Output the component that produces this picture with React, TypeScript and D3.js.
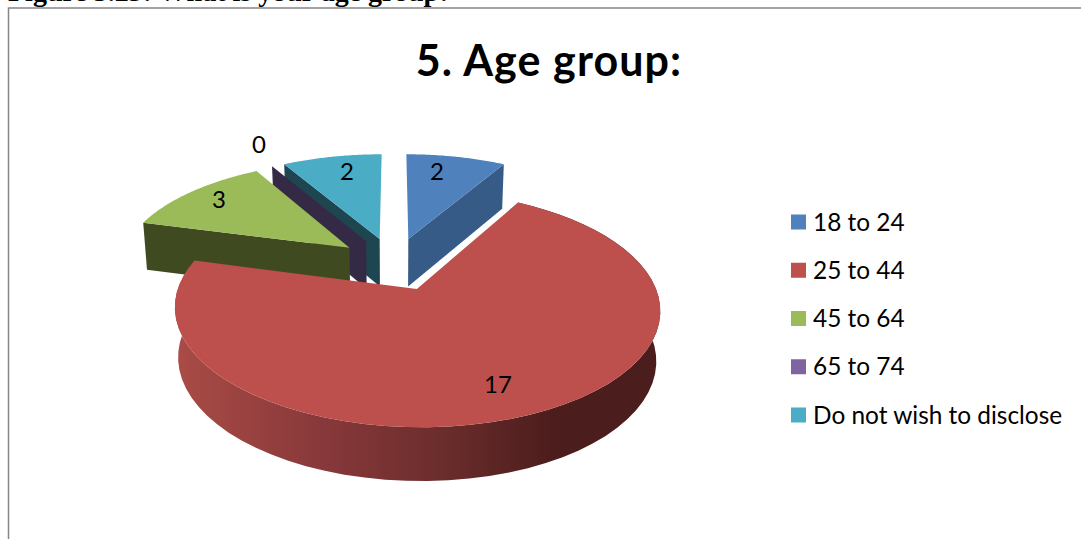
import React from "react";
import * as d3 from "d3";

const categories = ["18 to 24", "25 to 44", "45 to 64", "65 to 74", "Do not wish to disclose"];
const values = [2, 17, 3, 0, 2];
const topColors = ["#4f81bd", "#bd4f4c", "#9bbb59", "#8064a2", "#4bacc6"];
const wallColors = ["#375b87", "url(#redWall)", "#404a20", "#352a45", "#1e4650"];
const chartTitle = "5. Age group:";
const pageCaption = "Figure 5.23: What is your age group:";

const W = 1081, H = 539;
const cx = 394, cy = 263.5, ax = 230, by = 106, persp = 0.165;
const explode = 0.25, depth = 48.5, depthPersp = 0.08, bottomShrink = 0.985;

type P = [number, number];
const project = (X: number, Y: number): P => {
  const s = 1 / (1 + persp * Y);
  return [cx + ax * X * s, cy - by * Y * s];
};
const drop = ([x, y]: P, Y: number): P => [
  cx + (x - cx) * bottomShrink,
  y + depth / (1 + depthPersp * Y),
];

const arcs = d3.pie<number>().sort(null).value((d) => d)(values);
const line = d3.line<P>().x((d) => d[0]).y((d) => d[1]);

function wedge(a0: number, a1: number) {
  const mid = (a0 + a1) / 2;
  const ox = explode * Math.sin(mid), oy = explode * Math.cos(mid);
  const rim = d3.range(0, 61).map((i) => {
    const t = a0 + ((a1 - a0) * i) / 60;
    const X = ox + Math.sin(t), Y = oy + Math.cos(t);
    return { top: project(X, Y), bottom: drop(project(X, Y), Y) };
  });
  const apexTop = project(ox, oy);
  const apexBottom = drop(apexTop, oy);
  return { rim, apexTop, apexBottom };
}

const lastOf = <T,>(a: T[]) => a[a.length - 1];
const closed = (pts: P[]) => (line(pts) as string) + "Z";

const drawOrder = [4, 3, 2, 0, 1];
const labelAt: P[] = [[437, 172], [498, 385], [219, 200], [259, 145], [347, 172]];
const legendY = d3.scalePoint<number>().domain(d3.range(categories.length)).range([222, 415]);

const sans = "Lato, 'Open Sans', sans-serif";

export default function App() {
  return (
    <svg width={W} height={H} viewBox={`0 0 ${W} ${H}`} style={{ position: "absolute", left: 0, top: 0, background: "#fff" }}>
      <defs>
        <linearGradient id="redWall" gradientUnits="userSpaceOnUse" x1={178} x2={660} y1={0} y2={0}>
          <stop offset="0" stopColor="#a94b46" />
          <stop offset="0.3" stopColor="#88383a" />
          <stop offset="0.55" stopColor="#6b2d2c" />
          <stop offset="0.78" stopColor="#4b1d1c" />
          <stop offset="1" stopColor="#4b1d1c" />
        </linearGradient>
      </defs>
      <text x={8} y={1} fontFamily="'Liberation Serif', serif" fontWeight="bold" fontSize={28} fill="#000">{pageCaption}</text>
      <path d={`M${W},8H8.5V${H}`} fill="none" stroke="#868686" strokeWidth={1.5} />
      <text x={549} y={76} textAnchor="middle" fontFamily={sans} fontWeight="bold" fontSize={43} letterSpacing={1.1} fill="#000">{chartTitle}</text>

      {drawOrder.map((i) => {
        const a = arcs[i];
        const { rim, apexTop, apexBottom } = wedge(a.startAngle, a.endAngle);
        const first = rim[0], last = lastOf(rim);
        let wall: P[];
        if (i === 1) {
          wall = [...rim.map((r) => r.top), ...rim.map((r) => r.bottom).reverse()];
        } else if (i === 0) {
          wall = [apexTop, last.top, last.bottom, apexBottom];
        } else {
          wall = [apexTop, first.top, first.bottom, apexBottom];
        }
        const top: P[] = [apexTop, ...rim.map((r) => r.top)];
        return (
          <g key={categories[i]}>
            <path d={closed(wall)} fill={wallColors[i]} />
            {values[i] > 0 && <path d={closed(top)} fill={topColors[i]} />}
          </g>
        );
      })}

      {values.map((v, i) => (
        <text key={i} x={labelAt[i][0]} y={labelAt[i][1]} dy="0.35em" textAnchor="middle" fontFamily={sans} fontSize={24} fill="#000">{v}</text>
      ))}

      {categories.map((c, i) => (
        <g key={c}>
          <rect x={791} y={(legendY(i) as number) - 7.5} width={15} height={15} fill={topColors[i]} />
          <text x={813} y={legendY(i) as number} dy="0.35em" fontFamily={sans} fontSize={24.4} fill="#000">{c}</text>
        </g>
      ))}
    </svg>
  );
}
